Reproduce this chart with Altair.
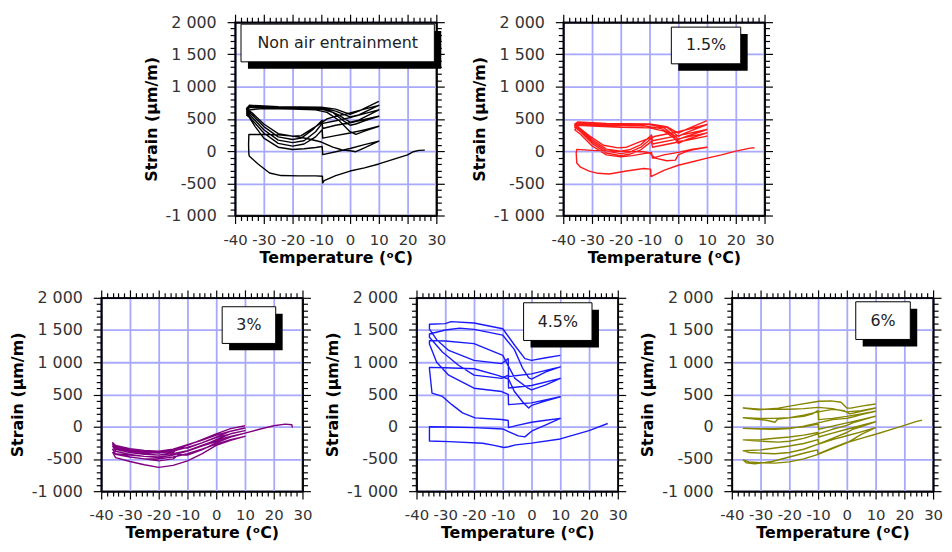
import altair as alt
import pandas as pd

# ---------------- data (temperature degC, strain um/m) in time order ----------------
NON_AIR = [
    (26, 15), (24, 10), (22, -10), (20, -60), (15, -130), (10, -200), (5, -260), (0, -310), (-5, -380),
    (-9, -460), (-9.5, -495), (-9.6, -390), (-12, -385), (-18, -385), (-24, -380), (-28, -340), (-32, -200),
    (-35, -80), (-35.2, -50), (-35.3, 100), (-35.2, 256),
    (-30, 262), (-25, 252), (-20, 232), (-15, 195), (-10, 140), (-6, 60), (-3, 20), (0, 5), (2, -10), (5, 50), (10, 155),
    (5, 100), (0, 40), (-5, -10), (-9.5, -55), (-9.7, 70), (-12, 55), (-16, 35), (-20, 25), (-25, 60), (-30, 200),
    (-33, 380), (-35, 520), (-36, 560),
    (-35, 640), (-30, 660), (-20, 650), (-12, 640), (-8, 600), (-4, 480), (0, 300), (2, 260), (5, 310), (10, 385),
    (5, 330), (0, 280), (-5, 240), (-9.5, 200), (-9.7, 330), (-12, 220), (-16, 110), (-20, 77), (-25, 120), (-30, 280),
    (-34, 480), (-36, 590),
    (-35, 680), (-30, 670), (-20, 660), (-10, 650), (-6, 600), (-2, 460), (0, 400), (2, 420), (5, 470), (10, 540),
    (5, 490), (0, 440), (-5, 400), (-9.5, 350), (-9.7, 430), (-12, 300), (-16, 160), (-20, 130), (-25, 170), (-30, 330),
    (-34, 520), (-36, 620),
    (-35, 690), (-25, 670), (-15, 665), (-8, 640), (-4, 560), (0, 450), (3, 480), (10, 640),
    (5, 580), (0, 520), (-5, 470), (-9.5, 430), (-9.7, 480), (-13, 330), (-17, 200), (-20, 180), (-25, 220), (-30, 380),
    (-34, 560), (-36, 640),
    (-35, 700), (-25, 680), (-10, 670), (-5, 620), (0, 530), (3, 560), (10, 710),
    (5, 650), (0, 590), (-5, 540), (-8, 500), (-12, 380), (-17, 240), (-20, 230), (-25, 270), (-30, 420), (-34, 590),
    (-36, 660),
    (-35, 710), (-25, 690), (-10, 680), (-5, 650), (0, 570), (3, 620), (10, 770),
]

AIR_1_5 = [
    (26.5, 52), (25, 45), (20, 0), (15, -60), (10, -110), (5, -165), (0, -220), (-5, -300), (-9.5, -395), (-9.6, -280),
    (-12, -270), (-18, -310), (-24, -355), (-28, -345), (-31, -310), (-34, -250), (-35.3, -184), (-35.5, -30), (-35.3, 26),
    (-30, 10), (-20, -5), (-12, -10), (-10, -30), (-8, -110), (-4, -150), (-1, -140), (0, -60), (2, -20), (5, 20), (10, 60),
    (5, 30), (0, -20), (-5, -60), (-9, -110), (-9.3, -20), (-12, -40), (-16, -70), (-20, -90), (-25, -60), (-30, 80),
    (-34, 260), (-36, 330),
    (-35, 400), (-30, 390), (-20, 370), (-10, 360), (-5, 310), (-2, 220), (0, 150), (2, 160), (10, 232),
    (0, 140), (-9, 60), (-9.3, 150), (-13, 20), (-17, -50), (-20, -70), (-25, -30), (-30, 120), (-34, 300), (-36, 370),
    (-35, 420), (-25, 400), (-12, 390), (-6, 350), (-2, 250), (0, 120), (3, 180), (10, 283),
    (0, 190), (-9, 110), (-9.3, 200), (-13, 60), (-17, -20), (-20, -40), (-25, 0), (-30, 150), (-34, 320), (-36, 390),
    (-35, 430), (-25, 410), (-10, 410), (-5, 360), (-1, 230), (0, 180), (3, 230), (10, 335),
    (0, 240), (-9, 160), (-9.3, 250), (-13, 100), (-17, 20), (-20, 0), (-25, 30), (-30, 180), (-34, 340), (-36, 400),
    (-35, 440), (-25, 420), (-10, 420), (-4, 370), (0, 230), (3, 290), (10, 412),
    (0, 300), (-8, 230), (-13, 150), (-18, 60), (-21, 50), (-26, 90), (-31, 240), (-35, 380), (-36, 420),
    (-35, 450), (-25, 430), (-10, 420), (-4, 380), (0, 280), (3, 340), (10, 474),
]

AIR_3 = [
    (26.5, -15), (26.3, 30), (24, 40), (20, 15), (15, -40), (10, -100),
    (5, -160), (0, -230), (-5, -300), (-10, -380), (-15, -440), (-20, -470), (-25, -460), (-30, -440), (-35, -420), (-36, -400),
    (-35, -480), (-30, -540), (-25, -590), (-20, -630), (-15, -600), (-10, -530), (-5, -420), (0, -290), (5, -210), (10, -150),
    (5, -200), (0, -270), (-5, -350), (-10, -420), (-15, -470), (-20, -500), (-25, -500), (-30, -470), (-35, -430), (-36, -350),
    (-35, -420), (-30, -470), (-25, -500), (-20, -530), (-15, -500), (-13, -430), (-10, -440), (-5, -360), (0, -250), (5, -160), (10, -100),
    (5, -150), (0, -210), (-5, -290), (-10, -370), (-15, -420), (-20, -440), (-25, -430), (-30, -400), (-35, -350), (-36, -300),
    (-35, -380), (-30, -430), (-25, -460), (-20, -480), (-15, -440), (-10, -380), (-5, -300), (0, -200), (5, -110), (10, -60),
    (5, -110), (0, -170), (-5, -250), (-10, -320), (-15, -380), (-20, -410), (-25, -400), (-30, -370), (-35, -320), (-36, -270),
    (-35, -340), (-30, -390), (-25, -420), (-20, -440), (-15, -400), (-13, -330), (-10, -330), (-5, -250), (0, -160), (5, -70), (10, -20),
    (5, -70), (0, -130), (-5, -210), (-10, -280), (-15, -350), (-20, -380), (-25, -370), (-30, -340), (-35, -290), (-36, -250),
    (-35, -300), (-30, -350), (-25, -380), (-20, -400), (-15, -360), (-10, -290), (-5, -200), (0, -110), (5, -30), (10, 15),
]

AIR_4_5 = [
    (26.5, 50), (20, -60), (10, -190), (0, -255), (-5.5, -282), (-8, -311), (-9.6, -323), (-13, -290), (-17, -256),
    (-28.6, -231), (-35.5, -221), (-35.5, 0),
    (-30, -5), (-20, -15), (-10, -35), (-8, -76), (-4.6, -143), (-2.3, -158), (0, -70), (5, 30), (10, 130),
    (5, 100), (0, 70), (-5, 20), (-8, -15), (-8.1, 97), (-10.4, 112), (-19.6, 138), (-24, 214), (-27.7, 342), (-31, 470),
    (-34.6, 520), (-35.5, 900),
    (-35.5, 920), (-30, 915), (-20, 900), (-12, 800), (-8, 740), (-6, 550), (-3, 380), (-1, 290), (0, 330), (5, 400), (10, 465),
    (0, 370), (-8, 342), (-8.1, 500), (-10.4, 546), (-20, 597), (-28.8, 800), (-33, 1000), (-35.5, 1285),
    (-35.5, 1336), (-30, 1330), (-20, 1290), (-10, 1107), (-5.8, 750), (-1.2, 597), (0, 571), (5, 650), (10, 750),
    (0, 640), (-8, 600), (-8.1, 800), (-10.4, 750), (-20, 800), (-25.4, 954), (-31, 1158), (-35.5, 1387),
    (-35.5, 1438), (-30, 1500), (-25, 1530), (-20, 1510), (-10, 1420), (-6, 1200), (-3, 900), (-1, 760), (0, 740), (5, 850), (10, 928),
    (0, 820), (-8, 780), (-8.1, 1056), (-10.4, 979), (-20, 1030), (-28.8, 1183), (-33, 1350), (-35.5, 1515),
    (-35.5, 1590), (-30, 1600), (-28, 1630), (-20, 1610), (-10, 1520), (-5.8, 1260), (-2.3, 1056), (0, 1030), (5, 1070), (10, 1107),
]

AIR_6 = [
    (26.2, 102), (24, 80), (20, 20), (15, -50), (10, -117), (5, -180), (0, -245), (-5, -330), (-10, -420), (-10.2, -360),
    (-14, -400), (-20, -470), (-26, -540), (-32, -575), (-35, -560), (-36, -515),
    (-34, -545), (-30, -560), (-25, -565), (-20, -545), (-15, -500), (-10, -430), (-5, -340), (0, -250), (2, -200), (5, -120), (10, -15),
    (5, -80), (0, -140), (-5, -200), (-9.8, -270), (-10, -200), (-15, -260), (-20, -300), (-25, -330), (-30, -360), (-36, -372),
    (-34, -400), (-30, -410), (-25, -420), (-20, -400), (-15, -350), (-10, -270), (-5, -180), (0, -90), (2, -40), (5, 0), (10, 77),
    (5, 20), (0, -40), (-5, -100), (-9.8, -160), (-10, -90), (-15, -130), (-20, -160), (-25, -180), (-30, -200), (-36, -204),
    (-33, -215), (-28, -230), (-24, -240), (-20, -225), (-15, -180), (-10, -110), (-5, -40), (0, 20), (2, 60), (5, 100), (10, 163),
    (5, 110), (0, 60), (-5, 10), (-9.8, -40), (-10, 40), (-15, 0), (-20, -20), (-25, -30), (-30, -30), (-36, -25),
    (-30, -35), (-25, -40), (-20, -30), (-15, 10), (-10, 60), (-5, 110), (0, 130), (2, 150), (5, 190), (10, 240),
    (5, 200), (0, 160), (-5, 130), (-9.8, 110), (-10, 250), (-12, 200), (-15, 160), (-20, 140), (-25, 130), (-30, 130), (-36, 138),
    (-32, 120), (-28, 100), (-25, 70), (-24, 120), (-20, 140), (-15, 180), (-10, 230), (-5, 270), (-1, 250), (1, 200), (5, 240), (10, 290),
    (5, 250), (0, 230), (-5, 280), (-10, 300), (-15, 280), (-20, 270), (-25, 270), (-30, 270), (-36, 290),
    (-30.8, 263), (-23.8, 289), (-16.9, 342), (-9.7, 395), (-5.5, 400), (-2, 380), (0, 290), (1.4, 289), (5, 320), (10, 352),
]

LABELS = ["Non air entrainment", "1.5%", "3%", "4.5%", "6%"]
COLORS = ["#000000", "#ff1a1a", "#800080", "#1a1aff", "#858500"]

X_MAJOR = [-40, -30, -20, -10, 0, 10, 20, 30]
X_MINOR = [v for v in range(-40, 31, 2) if v % 10 != 0]
Y_MAJOR = [-1000, -500, 0, 500, 1000, 1500, 2000]
Y_MINOR = [v for v in range(-1000, 2001, 100) if v % 500 != 0]

# label boxes (pixel positions inside each plot area: x, x2, y, y2)
BOXES = [(6, 201, 2, 40), (109, 179, 5, 42), (122, 176, 9, 46), (108, 177, 5, 43), (125, 180, 4, 42)]

W, H = 203, 195
GRID = "#a8a8ff"
XLAB = "replace(format(datum.value, 'd'), '\u2212', '-')"
YLAB = "replace(replace(format(datum.value, ','), ',', ' '), '\u2212', '-')"
XS = alt.Scale(domain=[-40, 30], nice=False, zero=False)
YS = alt.Scale(domain=[-1000, 2000], nice=False, zero=False)


def tick_axis(orient, values, size):
    return alt.Axis(orient=orient, values=values, labels=False, grid=False, domain=True,
                    ticks=True, tickSize=size, title="")


def panel(points, color, label, box):
    df = pd.DataFrame(points, columns=["T", "S"])
    df["i"] = range(len(df))
    base = alt.Chart(df)

    main = base.mark_line(color=color, strokeWidth=1.4, strokeJoin="round").encode(
        x=alt.X("T:Q", scale=XS, axis=alt.Axis(
            orient="bottom", values=X_MAJOR, grid=True, gridColor=GRID, gridWidth=1.8,
            tickSize=8, labelExpr=XLAB, labelFontSize=15, labelColor="#333333", labelFont="DejaVu Sans",
            labelPadding=9, labelOverlap=False, labelFlush=False,
            title="Temperature (\u1d52C)", titleFont="DejaVu Sans", titleFontSize=16,
            titleFontWeight="bold", titleColor="#000000", titlePadding=2)),
        y=alt.Y("S:Q", scale=YS, axis=alt.Axis(
            orient="left", values=Y_MAJOR, grid=True, gridColor=GRID, gridWidth=1.8,
            tickSize=8, labelExpr=YLAB, labelFontSize=16, labelColor="#333333", labelFont="DejaVu Sans",
            labelPadding=11, labelOverlap=False, labelFlush=False,
            title="Strain (\u00b5m/m)", titleFont="DejaVu Sans", titleFontSize=16,
            titleFontWeight="bold", titleColor="#000000", titlePadding=6)),
        order="i:Q",
    )

    minor_lb = base.mark_point(opacity=0).encode(
        x=alt.X("T:Q", scale=XS, axis=tick_axis("bottom", X_MINOR, 5)),
        y=alt.Y("S:Q", scale=YS, axis=tick_axis("left", Y_MINOR, 5)),
    )
    major_tr = base.mark_point(opacity=0).encode(
        x=alt.X("T:Q", scale=XS, axis=tick_axis("top", X_MAJOR, 8)),
        y=alt.Y("S:Q", scale=YS, axis=tick_axis("right", Y_MAJOR, 8)),
    )
    minor_tr = base.mark_point(opacity=0).encode(
        x=alt.X("T:Q", scale=XS, axis=tick_axis("top", X_MINOR, 5)),
        y=alt.Y("S:Q", scale=YS, axis=tick_axis("right", Y_MINOR, 5)),
    )

    bx, bx2, by, by2 = box
    one = alt.Chart(pd.DataFrame({"k": [0]}))
    shadow = one.mark_rect(color="#000000").encode(
        x=alt.value(bx + 7), x2=alt.value(bx2 + 7), y=alt.value(by + 7), y2=alt.value(by2 + 7))
    frame = one.mark_rect(fill="#ffffff", stroke="#000000", strokeWidth=1).encode(
        x=alt.value(bx), x2=alt.value(bx2), y=alt.value(by), y2=alt.value(by2))
    text = one.mark_text(text=label, font="DejaVu Sans", fontSize=16, color="#222222",
                         align="center", baseline="middle").encode(
        x=alt.value((bx + bx2) / 2), y=alt.value((by + by2) / 2))

    return alt.layer(main, minor_lb, major_tr, minor_tr, shadow, frame, text).resolve_axis(
        x="independent", y="independent").properties(width=W, height=H)


DATA = [NON_AIR, AIR_1_5, AIR_3, AIR_4_5, AIR_6]
panels = [panel(d, c, l, b) for d, c, l, b in zip(DATA, COLORS, LABELS, BOXES)]

spacer = alt.Chart(pd.DataFrame({"k": [0]})).mark_point(opacity=0).encode(
    x=alt.value(0), y=alt.value(0)).properties(width=18, height=H, view=alt.ViewBackground(strokeOpacity=0))

top = alt.hconcat(spacer, panels[0], panels[1], spacing=23)
bottom = alt.hconcat(panels[2], panels[3], panels[4], spacing=10)

chart = alt.vconcat(top, bottom, spacing=22).properties(
    padding={"left": 0, "top": 2, "right": 0, "bottom": 0}
).configure_view(stroke="#000000", strokeWidth=1.5).configure_axis(
    tickColor="#000000", domainColor="#000000", tickWidth=1.2, domainWidth=1.5
)

chart.save("out.html", embed_options={"renderer": "svg", "actions": False})
